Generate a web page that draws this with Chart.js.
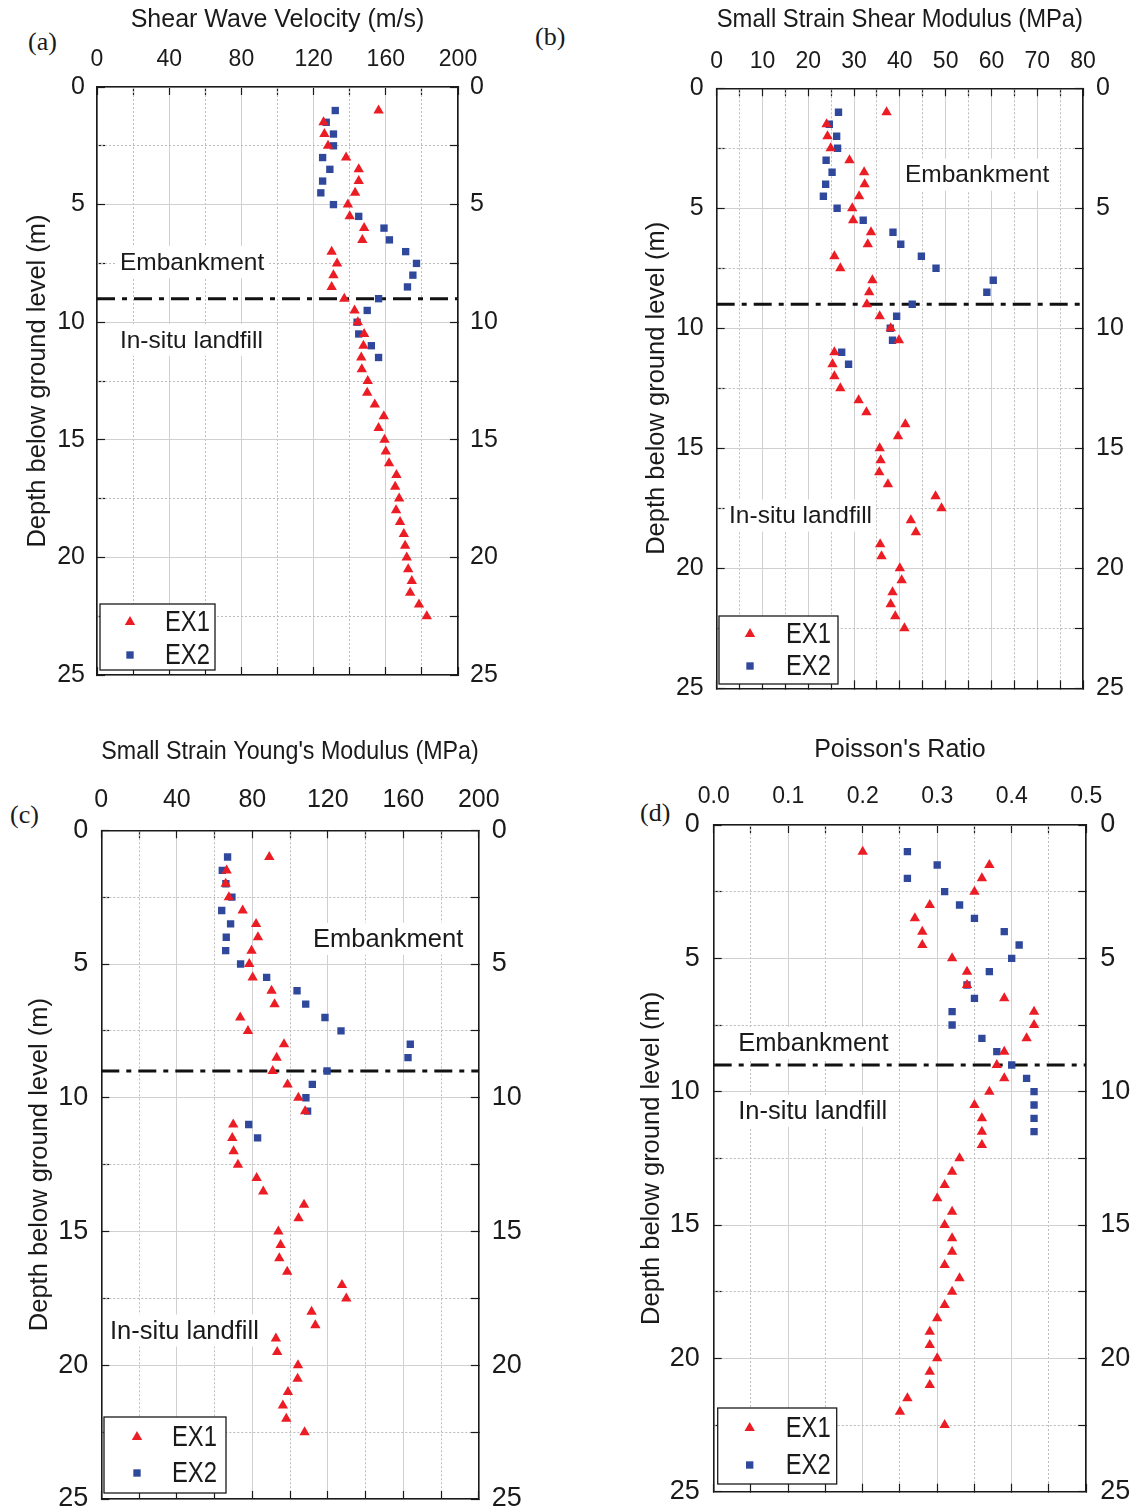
<!DOCTYPE html>
<html>
<head>
<meta charset="utf-8">
<script src="https://cdn.jsdelivr.net/npm/chart.js@4.4.1/dist/chart.umd.min.js"></script>
<style>
  body { margin: 0; background: #fff; width: 1135px; height: 1512px; position: relative; overflow: hidden; }
  canvas { position: absolute; }
  .tag { position: absolute; font-family: 'Liberation Serif', 'Times New Roman', serif; font-size: 26px; line-height: 26px; color: #1a1a1a; }
</style>
</head>
<body>
<div class="tag" style="left:28px;top:29px">(a)</div>
<div class="tag" style="left:535px;top:24px">(b)</div>
<div class="tag" style="left:10px;top:802px">(c)</div>
<div class="tag" style="left:640px;top:800px">(d)</div>
<canvas id="chartA"></canvas>
<canvas id="chartB"></canvas>
<canvas id="chartC"></canvas>
<canvas id="chartD"></canvas>
<script>
// depths (m) of the readings
const depthEX1 = [1.0, 1.5, 2.0, 2.5, 3.0, 3.5, 4.0, 4.5, 5.0, 5.5, 6.0, 6.5, 7.0, 7.5, 8.0, 8.5, 9.0, 9.5, 10.0, 10.5, 11.0, 11.5,
                  12.0, 12.5, 13.0, 13.5, 14.0, 14.5, 15.0, 15.5, 16.0, 16.5, 17.0, 17.5, 18.0, 18.5, 19.0, 19.5, 20.0, 20.5, 21.0, 21.5, 22.0, 22.5];
const depthEX2 = [1.0, 1.5, 2.0, 2.5, 3.0, 3.5, 4.0, 4.5, 5.0, 5.5, 6.0, 6.5, 7.0, 7.5, 8.0, 8.5, 9.0, 9.5, 10.0, 10.5, 11.0, 11.5];

// (a) shear wave velocity, m/s
const vsEX1 = [156, 125.5, 126, 128, 138, 145, 145, 143, 139, 140, 148, 147, 130, 133, 131, 130, 137, 142.7, 144.5, 148, 147.6, 146.4,
               146.7, 150, 149.7, 153.9, 158.9, 156, 159.3, 160, 161.8, 165.9, 165.2, 167.4, 165.7, 167.9, 170, 170.7, 171.6, 172.4, 174.4, 173.5, 178.4, 182.7];
const vsEX2 = [132, 127, 131, 131, 125, 129, 125, 124, 131, 145, 159, 162, 171, 177, 175, 172, 156, 149.7, 144.1, 145, 152, 156];

// (b) small strain shear modulus, MPa
const gEX1 = [37.1, 24, 24.2, 24.9, 29, 32.2, 32.3, 31.1, 29.6, 29.8, 33.7, 33, 25.7, 27, 34, 33.3, 32.8, 35.6, 38, 39.8, 25.7, 25.3,
              25.7, 27, 31, 32.7, 41.2, 39.6, 35.6, 35.8, 35.5, 37.4, 47.8, 49.1, 42.4, 43.5, 35.7, 36, 40, 40.4, 38.4, 38, 39, 41];
const gEX2 = [26.6, 24.6, 26.2, 26.4, 23.9, 25.2, 23.8, 23.3, 26.3, 32, 38.5, 40.2, 44.7, 47.9, 60.4, 59, 42.7, 39.3, 37.9, 38.4, 27.3, 28.8];

// (c) small strain Young's modulus, MPa
const eEX1 = [89, 66.4, 65.9, 67.6, 74.9, 82, 83, 79.6, 78.4, 80.2, 90.2, 91.8, 73.6, 77.7, 96.8, 92.9, 90.8, 98.7, 104.4, 108, 69.9, 69.4,
              70.1, 72.4, 82.3, 85.8, 107.4, 104.5, 93.8, 95, 94.3, 98.5, 127.5, 129.8, 111.4, 113.4, 92.5, 93.2, 104.2, 104, 98.9, 96.2, 98, 107.7];
const eEX2 = [66.9, 64.1, 66, 69.2, 63.8, 68.5, 66.2, 65.9, 73.8, 87.6, 103.7, 108.3, 118.5, 127, 163.7, 162.5, 119.6, 111.8, 108.4, 109.3, 78.1, 82.8];

// (d) Poisson's ratio
const nuEX1 = [0.20, 0.37, 0.36, 0.35, 0.29, 0.27, 0.28, 0.28, 0.32, 0.34, 0.34, 0.39, 0.43, 0.43, 0.42, 0.39, 0.38, 0.39, 0.37, 0.35, 0.36, 0.36,
               0.36, 0.33, 0.32, 0.31, 0.30, 0.32, 0.31, 0.32, 0.32, 0.31, 0.33, 0.32, 0.31, 0.30, 0.29, 0.29, 0.30, 0.29, 0.29, 0.26, 0.25, 0.31];
const nuEX2 = [0.26, 0.30, 0.26, 0.31, 0.33, 0.35, 0.39, 0.41, 0.40, 0.37, 0.34, 0.35, 0.32, 0.32, 0.36, 0.38, 0.40, 0.42, 0.43, 0.43, 0.43, 0.43];

// tick labels
const vsTicks = [0, 40, 80, 120, 160, 200];
const gTicks = [0, 10, 20, 30, 40, 50, 60, 70, 80];
const eTicks = [0, 40, 80, 120, 160, 200];
const nuTicks = [0.0, 0.1, 0.2, 0.3, 0.4, 0.5];
const depthTicks = [0, 5, 10, 15, 20, 25];
const boundaryDepth = 9;

const SANS = "'Liberation Sans', Arial, sans-serif";
const INK = '#1a1a1a';
const GRID_SOLID = '#d0d0d0';
const GRID_DOT = '#bcbcbc';
const RED = '#ec1c24';
const BLUE = '#2f489c';
const CLEAR = 'rgba(0,0,0,0)';

const near = (list, v) => list.find(t => Math.abs(t - v) < 1e-6);

const panels = [
  { id: 'chartA', left: 0, top: 0, width: 567, height: 730,
    plot: { left: 97, top: 87, right: 458, bottom: 675 },
    xMax: 200, xStep: 20, xLabels: vsTicks, digits: 0, xTitle: 'Shear Wave Velocity (m/s)',
    ex1: vsEX1, ex2: vsEX2, titleY: 20, xTickY: 60, xTickSize: 23, yTickSize: 25, yTickPad: 20, yTitleX: 38, noteSize: 24.5,
    notes: [{ text: 'Embankment', x: 12.7, y: 7.44 }, { text: 'In-situ landfill', x: 12.7, y: 10.75 }],
    legend: { dx: 3, dy: 5, w: 115, h: 66, mx: 30, tx: 65, rows: [18, 51] } },
  { id: 'chartB', left: 567, top: 0, width: 568, height: 730,
    plot: { left: 149.7, top: 88.3, right: 516, bottom: 688.3 },
    xMax: 80, xStep: 5, xLabels: gTicks, digits: 0, xTitle: 'Small Strain Shear Modulus (MPa)',
    ex1: gEX1, ex2: gEX2, titleY: 20, xTickY: 62, xTickSize: 23, yTickSize: 25, yTickPad: 21, yTitleX: 90, noteSize: 24.5,
    notes: [{ text: 'Embankment', x: 41.1, y: 3.6 }, { text: 'In-situ landfill', x: 2.7, y: 17.8 }],
    legend: { dx: 2.3, dy: 4.3, w: 119, h: 68, mx: 31, tx: 67, rows: [18, 50] } },
  { id: 'chartC', left: 0, top: 730, width: 567, height: 782,
    plot: { left: 101.3, top: 100.3, right: 478.8, bottom: 769 },
    xMax: 200, xStep: 20, xLabels: eTicks, digits: 0, xTitle: "Small Strain Young's Modulus (MPa)",
    ex1: eEX1, ex2: eEX2, titleY: 22, xTickY: 70, xTickSize: 25, yTickSize: 27, yTickPad: 21, yTitleX: 40, noteSize: 25.5,
    notes: [{ text: 'Embankment', x: 112.2, y: 4.06 }, { text: 'In-situ landfill', x: 4.6, y: 18.7 }],
    legend: { dx: 2.7, dy: 6, w: 122, h: 76, mx: 33, tx: 68, rows: [20, 56] } },
  { id: 'chartD', left: 567, top: 730, width: 568, height: 782,
    plot: { left: 146.7, top: 95, right: 519.2, bottom: 761.7 },
    xMax: 0.5, xStep: 0.05, xLabels: nuTicks, digits: 1, xTitle: "Poisson's Ratio",
    ex1: nuEX1, ex2: nuEX2, titleY: 20, xTickY: 67, xTickSize: 23, yTickSize: 27, yTickPad: 22, yTitleX: 85, noteSize: 25.5,
    notes: [{ text: 'Embankment', x: 0.033, y: 8.17 }, { text: 'In-situ landfill', x: 0.033, y: 10.72 }],
    legend: { dx: 4, dy: 7.7, w: 119, h: 76, mx: 32, tx: 68, rows: [20, 57] } }
];

// notes with white boxes and the framed legend
const extras = {
  id: 'extras',
  beforeDatasetsDraw(chart, args, opts) {
    const ctx = chart.ctx;
    const sx = chart.scales.x, sy = chart.scales.y;
    ctx.save();
    ctx.font = opts.noteSize + 'px ' + SANS;
    ctx.textBaseline = 'middle';
    ctx.textAlign = 'left';
    opts.notes.forEach(n => {
      const px = sx.getPixelForValue(n.x);
      const py = sy.getPixelForValue(n.y);
      const w = ctx.measureText(n.text).width;
      ctx.fillStyle = '#fff';
      ctx.fillRect(px - 4, py - 16, w + 8, 32);
      ctx.fillStyle = INK;
      ctx.fillText(n.text, px, py + 1);
    });
    ctx.restore();
  },
  afterDatasetsDraw(chart, args, opts) {
    const ctx = chart.ctx;
    const L = opts.legend;
    const bx = chart.chartArea.left + L.dx;
    const by = chart.chartArea.bottom - L.dy - L.h;
    ctx.save();
    ctx.fillStyle = '#fff';
    ctx.fillRect(bx, by, L.w, L.h);
    ctx.strokeStyle = INK;
    ctx.lineWidth = 1.3;
    ctx.strokeRect(bx, by, L.w, L.h);
    chart.data.datasets.filter(d => d.label).forEach((d, i) => {
      const y = by + L.rows[i];
      ctx.fillStyle = d.pointBackgroundColor;
      Chart.helpers.drawPoint(ctx, { pointStyle: d.pointStyle, radius: d.pointRadius, rotation: 0, borderWidth: 0 }, bx + L.mx, y);
      // the original legend font is tall and narrow
      ctx.save();
      ctx.translate(bx + L.tx, y + 1);
      ctx.scale(0.82, 1);
      ctx.fillStyle = INK;
      ctx.font = '29px ' + SANS;
      ctx.textBaseline = 'middle';
      ctx.textAlign = 'left';
      ctx.fillText(d.label, 0, 0);
      ctx.restore();
    });
    ctx.restore();
  }
};

function buildPanel(p) {
  const canvas = document.getElementById(p.id);
  canvas.width = p.width;
  canvas.height = p.height;
  canvas.style.left = p.left + 'px';
  canvas.style.top = p.top + 'px';

  const xMajor = v => near(p.xLabels, v) !== undefined;
  const yMajor = v => near(depthTicks, v) !== undefined;
  const xLabel = v => { const t = near(p.xLabels, v); return t === undefined ? '' : t.toFixed(p.digits); };
  const yLabel = v => { const t = near(depthTicks, v); return t === undefined ? '' : String(t); };

  // fixed box sizes so the plot area lands where the original has it
  const fixBox = (s, w, h) => {
    if (w !== null) s.width = w;
    if (h !== null) s.height = h;
    s.paddingTop = 0; s.paddingBottom = 0; s.paddingLeft = 0; s.paddingRight = 0;
  };

  const tickMarks = { tickColor: INK, tickLength: -8, tickWidth: 1.2, tickBorderDash: [], lineWidth: 1 };
  const xTickPad = p.plot.top - p.xTickY - p.xTickSize / 2 + 8;

  new Chart(canvas, {
    type: 'scatter',
    data: {
      datasets: [
        { label: 'EX1', data: depthEX1.map((d, i) => ({ x: p.ex1[i], y: d })),
          pointStyle: 'triangle', pointRadius: 6, pointBackgroundColor: RED, backgroundColor: RED, pointBorderWidth: 0, borderWidth: 0 },
        { label: 'EX2', data: depthEX2.map((d, i) => ({ x: p.ex2[i], y: d })),
          pointStyle: 'rect', pointRadius: 5.2, pointBackgroundColor: BLUE, backgroundColor: BLUE, pointBorderWidth: 0, borderWidth: 0 },
        { label: '', data: [{ x: 0, y: boundaryDepth }, { x: p.xMax, y: boundaryDepth }],
          showLine: true, borderColor: '#111', borderWidth: 3, borderDash: [18, 7, 5, 7], pointRadius: 0 }
      ]
    },
    options: {
      responsive: false,
      animation: false,
      events: [],
      layout: { padding: 0 },
      plugins: {
        legend: { display: false },
        tooltip: { enabled: false },
        extras: { notes: p.notes, legend: p.legend, noteSize: p.noteSize }
      },
      scales: {
        x: {
          type: 'linear', position: 'top', min: 0, max: p.xMax,
          title: { display: true, text: p.xTitle, color: INK, font: { family: SANS, size: 25, lineHeight: 1 },
                   padding: { top: p.titleY - 12.5, bottom: 0 } },
          ticks: { stepSize: p.xStep, autoSkip: false, maxRotation: 0, minRotation: 0, color: INK, padding: xTickPad,
                   font: { family: SANS, size: p.xTickSize, lineHeight: 1 }, callback: xLabel },
          grid: Object.assign({}, tickMarks, { color: c => (c.tick && !xMajor(c.tick.value)) ? CLEAR : GRID_SOLID }),
          border: { color: INK, width: 1.6 },
          afterFit: s => fixBox(s, null, p.plot.top)
        },
        xMinor: {
          type: 'linear', position: 'bottom', min: 0, max: p.xMax,
          ticks: { display: false, stepSize: p.xStep, autoSkip: false },
          grid: Object.assign({}, tickMarks, { color: c => (c.tick && !xMajor(c.tick.value)) ? GRID_DOT : CLEAR }),
          border: { color: INK, width: 1.6, dash: [2, 2] },
          afterFit: s => fixBox(s, null, p.height - p.plot.bottom)
        },
        y: {
          type: 'linear', position: 'left', reverse: true, min: 0, max: 25,
          title: { display: true, text: 'Depth below ground level (m)', color: INK, font: { family: SANS, size: 25.5, lineHeight: 1 },
                   padding: { top: p.yTitleX - 12.75, bottom: 0 } },
          ticks: { stepSize: 2.5, autoSkip: false, color: INK, padding: p.yTickPad,
                   font: { family: SANS, size: p.yTickSize, lineHeight: 1 }, callback: yLabel },
          grid: Object.assign({}, tickMarks, { color: c => (c.tick && !yMajor(c.tick.value)) ? CLEAR : GRID_SOLID }),
          border: { color: INK, width: 1.6 },
          afterFit: s => fixBox(s, p.plot.left, null)
        },
        yMinor: {
          type: 'linear', position: 'right', reverse: true, min: 0, max: 25,
          ticks: { stepSize: 2.5, autoSkip: false, color: INK, padding: p.yTickPad,
                   font: { family: SANS, size: p.yTickSize, lineHeight: 1 }, callback: yLabel },
          grid: Object.assign({}, tickMarks, { color: c => (c.tick && !yMajor(c.tick.value)) ? GRID_DOT : CLEAR }),
          border: { color: INK, width: 1.6, dash: [2, 2] },
          afterFit: s => fixBox(s, p.width - p.plot.right, null)
        }
      }
    },
    plugins: [extras]
  });
}

panels.forEach(buildPanel);
</script>
</body>
</html>
